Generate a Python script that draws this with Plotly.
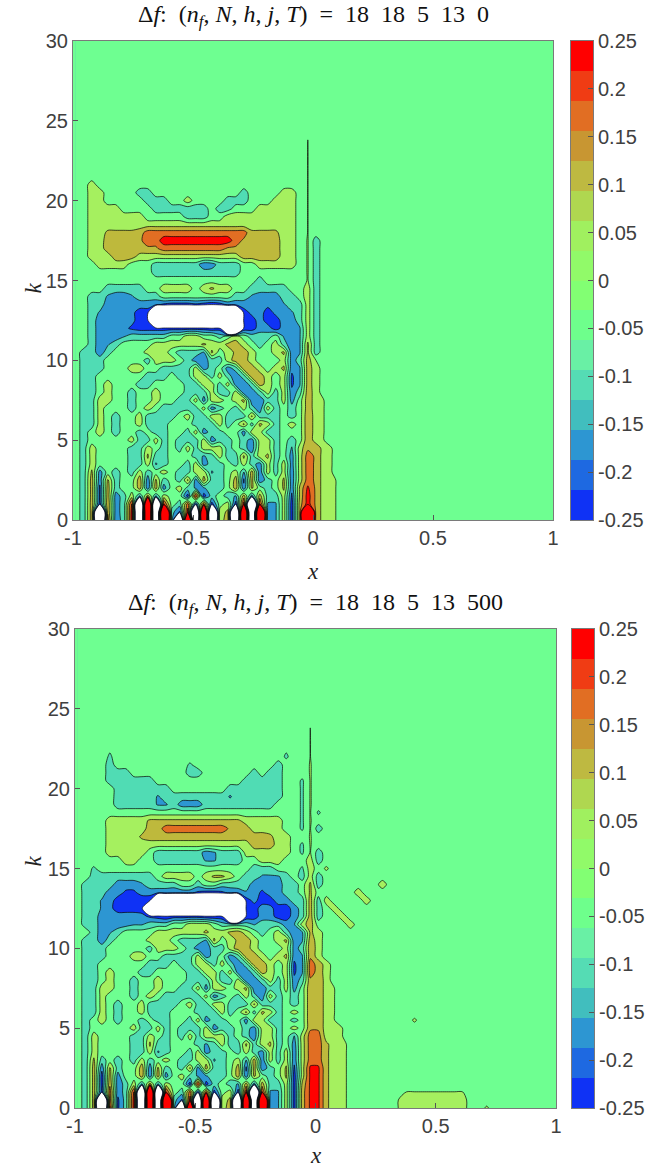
import plotly.graph_objects as go

W, H = 647, 1167
K_VALUES = [i * 0.5 for i in range(45)] + [23, 23.8, 24, 30]
X_VALUES = [-1 + (j + 0.35) / 30 for j in range(53)] + [1.0]

# band letters -> f values, in units of one contour step (0.0625)
LEVEL_UNITS = {'.': -0.5, ',': 0.016, ';': 0.064, 'i': 0.16, 'a': 0.5, 'b': 1.2, 'c': 1.5, 'd': 1.6,
               'e': 1.8, 'f': 2.5, 'g': 3.2, 'h': 3.5, 'R': 14, 'I': -1.16, 'A': -1.5, 'B': -2.1,
               'C': -2.5, 'D': -2.7, 'E': -3.2, 'F': -3.5, 'G': -3.8, 'W': -14}

SPIKE = "..... ..... ..... ..... ..... ....,"
F_T0 = [
 ".AdWf DAhWR WRAWR WRWac WRWRD BaFcR eaa",
 ".AdWe CAhWR WRAEh WRWab WRWRC BaFcR eaa",
 ".AdFe CAgWR Wg.Af EfF.a FhWgB BaFch eaa",
 ".AcEd CAaBc Ba..F gFA.A BcCcA AaEbh eaa",
 ".AcEc A..cD cC.aA BBAA. cDb.A .bDbg eaa",
 ".AcDb A..dD bA.Ab CcAA. cEcDA .bDaf eaa",
 ".AbC. A.AaA .a.AA aaBA. aBcDa AaDaf ea,",
 ".Aa.. ..AAa BA..A aCAA. AaACa AaCaf ea,",
 ".Aa.. ..AAb AA... ABAaA AbAab A.Caf ea,",
 ".Aa.. ..AAa .A.Aa AaaaA .ADaa A.Bae ea,",
 ".A... ..aAA aA.AA AaCAA .ACaa A.A.e a,",
 ".A.a. A..A. AA..A aCAA. .CaaA A...e a,",
 ".AAa. A..aA AA... AAAaA .bAba A.a.e a,",
 ".AAa. A..aA AAA.a AAaaA AAbAA A.A.e a,",
 ".AAa. ..A.a .AAAA AaCA. AaADa A.A.d a,",
 ".AAaa ..A.. a..AA aCaa. abDCA AaC.d a,",
 ".AA.a ..A.. a...A AAaAA aDCAa AaDAd a",
 ".AA.a ...AA ....A AaaAa CDAca .aEBc a",
 ".AA.. ....A AA.AA aaAaA DAcca .aEBc a",
 ".AAA. ..aa. .AAAA aCA.C Acca. abDBc a",
 ".AAA. ....A aaa.A CCAAa cca.. .aCAc ,",
 ".AACA ....a aa.AA ABb.a bda.. abDBb A",
 "..ACB A.... aaaaa abaab ca.A. aADBb A",
 "..ACD CBAAA AA..a a..A. a.AAA .BCBa A",
 "..ACD DDEFF FFFFF FFGFW WGFCC FCCBa A",
 "..ACD DDDFG WWWWW WWWWW WGFCF FCCAa A",
 "..ABD DDDFF WWWWW WWWWW WFDCF DCBAa A",
 "..AAC CCCCC DEFFF EFGFD CCCCD CBAAa A",
 "..AAB CCBAA A.... ..... AABCC CAA.a A",
 "....A AAAA. .aaaa .abaa ..AAA AA..a A",
 "..... ..... ..... ..... ...A. ....; A",
 "..... ..... AAAAA AAAAA A.... ....; A",
 "...aa aa... AAAAA ADCAA A..aa aaa.; A",
 "..aaa cccaa aaaaa aaaaa acccc caa.; A",
 "..aac cccee effff ffffe ecccc caa.; A",
 "..aac cccef fhhhh hhhhh feccc caa.; A",
 "..aab bbbcf fffff fffff ffbbb baa.,",
 "..aaa aaaaa aaaaa aaaaa aaaaa aaa.,",
 "..aaa aaaa. ....A AA..a aaaaa aaa.,",
 "..aaa a.... AAAAA AA.AA ...aa aaa.,",
 "..aa. ....A AA..a ....A AA... aaa.,",
 "..aa. ...AA ..... ..... .A... .aa.,",
 "..a.. ..... ..... ..... ..... ....,",
 SPIKE, SPIKE, SPIKE, SPIKE, "", "",
]
F_T500 = [
 ".AcWg EAhWR WRAWR WRWac WRWRD BaFcg gbaa. ..... ,aaaa aaaa. .i",
 ".AcWf EAhWR WRAEh WRWab WRWRC BaFcg gbaa. ..... ,aaaa aaaa.",
 ".AcFf DAgWR Wg.Af EfF.a FhWgB BaFcg gbaa. ..... .,,,, ,,,,.",
 ".AcFe DAaBc Ba..F gFA.A BcCcA AaFbg gbaa",
 ".AcFc C..cD cC.aA BBAA. cDb.A .bFag gbaa",
 ".AcDb A..dD bA.Ab CcAA. cEcDA .bEag gbaa",
 ".AbA. A.AaA .a.AA aaBA. aBcDa AaDaf fbaa",
 ".Aa.. ..AAa BA..A aCAA. AaACa AaDaf fbaa",
 ".Aa.. ..AAb AA... ABAaA AbAab A.Caf fbaa",
 ".Aa.. ..AAa .A.Aa AaaaA .ADaa A.Baf faa,",
 ".A... ..aAA aA.AA AaCAA .ACaa A.a.e eaa,",
 ".A.a. A..A. AA..A aCAA. .CaaA A.A.e ea,.. ..... ..i",
 ".AAa. A..aA AA... AAAaA .bAba A.a.e ea,",
 ".AAa. A..aA AAA.a AAaaA AAbAA A.A.e ea,",
 ".AAa. ..A.a .AAAA AaCA. AaADa A.A.e ea,",
 ".AAaa ..A.. a..AA aCaa. abDCA AaC.e ea,",
 ".AA.a ..A.. a...A AAaAA aDCAa AaDAe ea",
 ".AA.a ...AA ....A AaaAa CDAca .aEBf da",
 ".AA.. ....A AA.AA aaAaA DAcca .aEBf da",
 ".AAA. ..aa. .AAAA aCA.C Acca. abDBe a",
 ".AAA. ....A aaa.A CCAAa cca.. .aCAe a",
 ".AACA ....a aa.AA ABb.a bda.. abDBd a",
 "..ACB A.... aaaaa abaab ca.A. aADBb a",
 ".AACC CCBBA AA..a aa.AA AABAA ACBad ....a",
 ".AACC CCCDE FGFFF FGGGW WGFCC FFCAd A..a.",
 ".AABD FFFFW WWWWW WWWWW WGFCD FFCAc A.a..",
 ".AABC FFFGG WWWWW WWWWW WFDFF CCAAc Aa... .a",
 ".AAAC CEECC CCDDD EFFED CBCEC CAA.b ..... a",
 ".AAAA CCCBA AAA.. A..AA AACCC CAA.b A.... ...a",
 "..AAA AAAAA .aaaa .abba .AABB BA.Aa A",
 "..I.. ..... ..... ..... ..AAA ...Ia .i",
 "..... .aa.. AAAAA ABBAA A..aa a...a A",
 "....a aaaa. AAAAA ACBAA Aaaaa aa.I; A",
 "....a aaaaa aaaaa aaaaa aaccc aa.I;",
 "....a aaabc ccccc ccccc ccccb aa..;",
 "....a aaaac cffff ffffe ccaaa a..I; A",
 "....a aaaab bbbbb bbbbb baaaa a..I;",
 "..... ..... ..... ..... ..... ...I; I",
 "..... AAAAA BBACC CAAAA AAAAA ...I;",
 "..... AAAAA BAAAA AAAAB AAAAA A..I;",
 "..... AAAAA AA... ....A AAAAA A..I;",
 "....A AAAAA ..... ..... .AAAA A..I;",
 "....A AA... ....A A.... ..A.A A...;",
 "....A ..... ....I ..... ..... A...;",
 "....I ..... ..... ..... ..... .I..,",
 SPIKE, SPIKE, "", "",
]

BAND_COLORS = ['#ffffff', '#0f32f5', '#2d96d2', '#50dcb4', '#6eff91',
               '#a5f05f', '#beb93c', '#e16e23', '#ff0000', '#ff0000']
CBAR_COLORS = ['#0f32f5', '#1e69e1', '#2d96d2', '#41bebe', '#55dcb4', '#69f0a5', '#6eff8c', '#82ff73',
               '#91fa69', '#a0f05f', '#afd750', '#beb941', '#c89632', '#e16e23', '#f03c14', '#ff0000']
CBAR_TICKS = [0.25, 0.2, 0.15, 0.1, 0.05, 0, -0.05, -0.1, -0.15, -0.2, -0.25]
CBAR_LABELS = ['0.25', '0.2', '0.15', '0.1', '0.05', '0', '-0.05', '-0.1', '-0.15', '-0.2', '-0.25']
X_TICKS = [-1, -0.5, 0, 0.5, 1]
X_LABELS = ['-1', '-0.5', '0', '0.5', '1']
K_TICKS = [0, 5, 10, 15, 20, 25, 30]
TITLES = ['18&nbsp;&nbsp;18&nbsp;&nbsp;5&nbsp;&nbsp;13&nbsp;&nbsp;0', '18&nbsp;&nbsp;18&nbsp;&nbsp;5&nbsp;&nbsp;13&nbsp;&nbsp;500']

STEP = 0.0625
LINE = '#7a7a7a'
TXT = '#404040'
SERIF = 'Liberation Serif'
SANS = 'Liberation Sans'


def grid(rows):
    out = []
    for r in rows:
        r = r.replace(' ', '').ljust(len(X_VALUES), '.')
        out.append([LEVEL_UNITS[c] * STEP for c in r])
    return out


n = len(BAND_COLORS)
scale = []
for i, c in enumerate(BAND_COLORS):
    scale += [[i / n, c], [(i + 1) / n, c]]
m = len(CBAR_COLORS)
cscale = []
for i, c in enumerate(CBAR_COLORS):
    cscale += [[i / m, c], [(i + 1) / m, c]]

fig = go.Figure()
panels = [
    dict(data=F_T0, x=(73, 553), y=(41, 520), cb=(571, 593), t=TITLES[0], ty=16, lx=571),
    dict(data=F_T500, x=(75, 556), y=(629, 1108), cb=(572, 594), t=TITLES[1], ty=604, lx=1155),
]
layout = {}
ann = []
for idx, p in enumerate(panels):
    xa = 'x' + ('' if idx == 0 else str(idx * 2 + 1))
    ya = 'y' + ('' if idx == 0 else str(idx * 2 + 1))
    xb = 'x' + str(idx * 2 + 2)
    yb = 'y' + str(idx * 2 + 2)
    fig.add_trace(go.Contour(
        x=X_VALUES, y=K_VALUES, z=grid(p['data']), xaxis=xa, yaxis=ya,
        autocontour=False, zmin=-5 * STEP, zmax=5 * STEP, colorscale=scale, showscale=False,
        contours=dict(start=-4 * STEP, end=4 * STEP, size=STEP, coloring='fill', showlines=True),
        line=dict(color='rgba(10,10,10,0.9)', width=0.8, smoothing=0.8), hoverinfo='skip'))
    fig.add_trace(go.Heatmap(
        x=[0], y=[-0.25 + (i + 0.5) / 32 for i in range(m)], z=[[i] for i in range(m)],
        xaxis=xb, yaxis=yb, zmin=0, zmax=m - 1, colorscale=[[a[0], a[1]] for a in cscale],
        showscale=False, hoverinfo='skip'))
    common = dict(showline=True, linecolor=LINE, linewidth=1, mirror=True, ticks='inside', ticklen=5, automargin=False,
                  tickcolor='#555555', tickfont=dict(family=SANS, size=20, color=TXT), showgrid=False, zeroline=False)
    layout[xa.replace('x', 'xaxis')] = dict(common, domain=[p['x'][0] / W, p['x'][1] / W], range=[-1, 1],
                                             tickvals=X_TICKS, ticktext=X_LABELS, anchor=ya)
    layout[ya.replace('y', 'yaxis')] = dict(common, domain=[1 - p['y'][1] / H, 1 - p['y'][0] / H], range=[0, 30],
                                             tickvals=K_TICKS, anchor=xa)
    layout[xb.replace('x', 'xaxis')] = dict(showline=True, linecolor=LINE, mirror=True, ticks='', showticklabels=False,
                                             domain=[p['cb'][0] / W, p['cb'][1] / W], anchor=yb, showgrid=False, zeroline=False,
                                             range=[-0.5, 0.5], automargin=False)
    layout[yb.replace('y', 'yaxis')] = dict(common, domain=[1 - p['y'][1] / H, 1 - p['y'][0] / H], range=[-0.25, 0.25],
                                             side='right', tickvals=CBAR_TICKS, ticktext=CBAR_LABELS, anchor=xb)
    cx = (p['x'][0] + p['x'][1]) / 2
    ann.append(dict(xref='paper', yref='paper', x=cx / W, y=1 - p['ty'] / H, showarrow=False, yanchor='middle',
                    text='Δ<i>f</i>:&nbsp;&nbsp;(<i>n<sub>f</sub></i>,&nbsp;<i>N</i>,&nbsp;<i>h</i>,&nbsp;<i>j</i>,&nbsp;<i>T</i>)&nbsp;&nbsp;=&nbsp;&nbsp;' + p['t'],
                    font=dict(family=SERIF, size=24, color='#111111')))
    ann.append(dict(xref='paper', yref='paper', x=cx / W, y=1 - p['lx'] / H, showarrow=False, yanchor='middle',
                    text='<i>x</i>', font=dict(family=SERIF, size=23, color='#222222')))
    ann.append(dict(xref='paper', yref='paper', x=18 / W, y=1 - ((p['y'][0] + p['y'][1]) / 2) / H, showarrow=False,
                    text='<i>k</i>', textangle=-90, font=dict(family=SERIF, size=23, color='#222222')))

fig.update_layout(width=W, height=H, margin=dict(l=0, r=0, t=0, b=0), paper_bgcolor='white',
                  plot_bgcolor='#6eff91', showlegend=False, annotations=ann, **layout)
fig.write_html("out.html", config=dict(displayModeBar=False), post_script="document.body.style.margin='0';")
